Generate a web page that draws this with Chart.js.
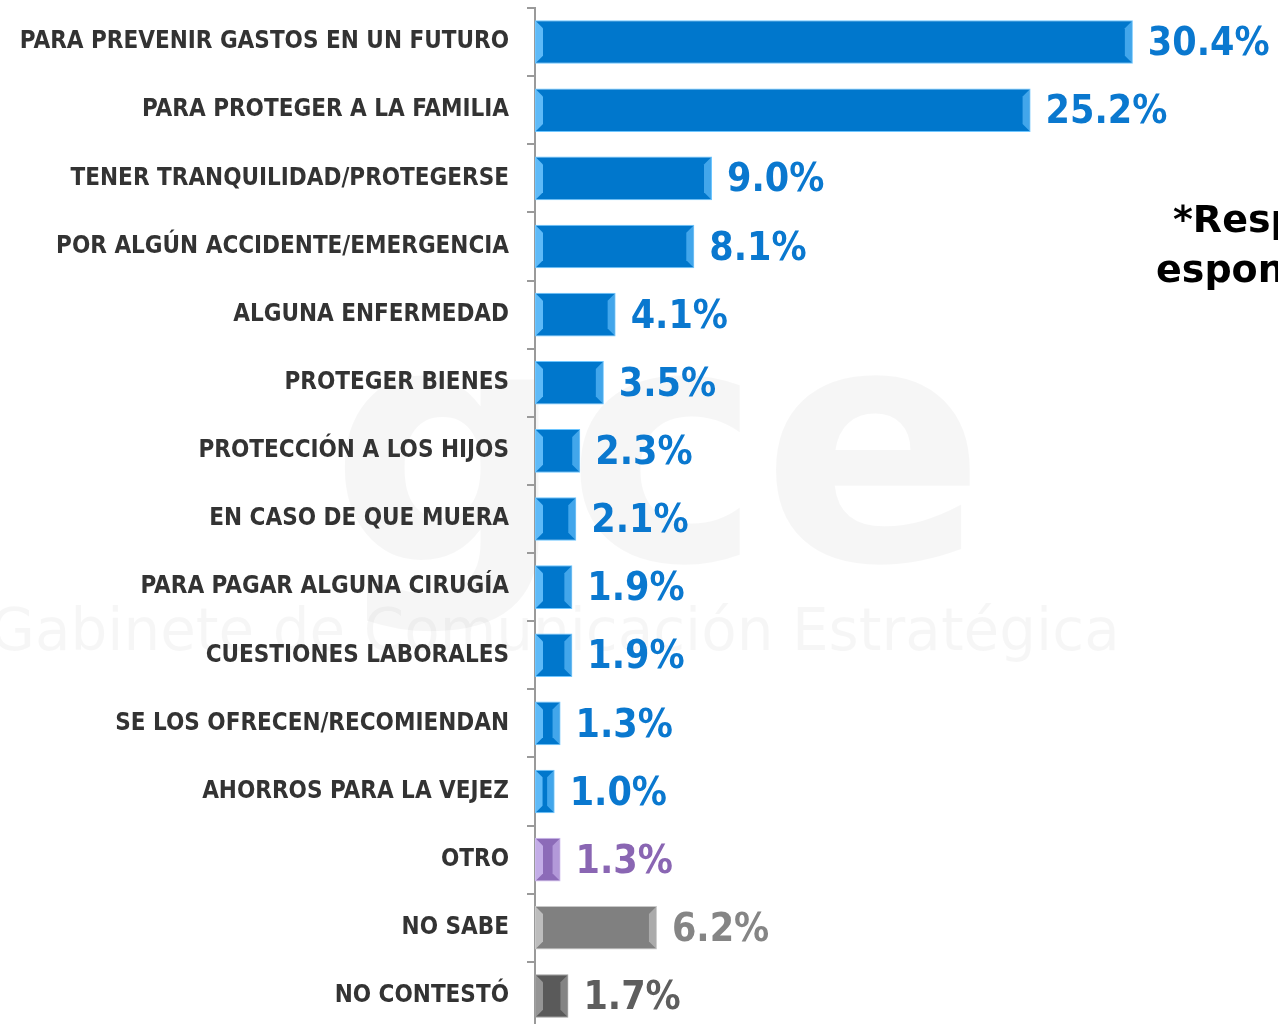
<!DOCTYPE html>
<html>
<head>
<meta charset="utf-8">
<script src="https://cdn.jsdelivr.net/npm/chart.js@4/dist/chart.umd.min.js"></script>
<style>
html,body{margin:0;padding:0;background:#fff;overflow:hidden;}
#wrap{width:1278px;height:1030px;position:relative;}
</style>
</head>
<body>
<div id="wrap"><canvas id="c" width="1278" height="1030"></canvas></div>
<script>
const categories = [
  "PARA PREVENIR GASTOS EN UN FUTURO",
  "PARA PROTEGER A LA FAMILIA",
  "TENER TRANQUILIDAD/PROTEGERSE",
  "POR ALGÚN ACCIDENTE/EMERGENCIA",
  "ALGUNA ENFERMEDAD",
  "PROTEGER BIENES",
  "PROTECCIÓN A LOS HIJOS",
  "EN CASO DE QUE MUERA",
  "PARA PAGAR ALGUNA CIRUGÍA",
  "CUESTIONES LABORALES",
  "SE LOS OFRECEN/RECOMIENDAN",
  "AHORROS PARA LA VEJEZ",
  "OTRO",
  "NO SABE",
  "NO CONTESTÓ"
];
const values = [30.4, 25.2, 9.0, 8.1, 4.1, 3.5, 2.3, 2.1, 1.9, 1.9, 1.3, 1.0, 1.3, 6.2, 1.7];
const barColors = ["#0077CC","#0077CC","#0077CC","#0077CC","#0077CC","#0077CC","#0077CC","#0077CC","#0077CC","#0077CC","#0077CC","#0077CC","#8C6BB8","#808080","#5A5A5A"];
const bevelColors = ["#6EC6FF","#6EC6FF","#6EC6FF","#6EC6FF","#6EC6FF","#6EC6FF","#6EC6FF","#6EC6FF","#6EC6FF","#6EC6FF","#6EC6FF","#6EC6FF","#CDB8EE","#C8C8C8","#A0A0A0"];
const labelColors = ["#0A78CF","#0A78CF","#0A78CF","#0A78CF","#0A78CF","#0A78CF","#0A78CF","#0A78CF","#0A78CF","#0A78CF","#0A78CF","#0A78CF","#8A66B3","#858585","#5E5E5E"];
const noteLines = ["*Respuesta", "espontánea"];
const watermarkText = "Gabinete de Comunicación Estratégica";

const watermark = {
  id: 'watermark',
  beforeDraw(chart) {
    const ctx = chart.ctx;
    ctx.save();
    ctx.fillStyle = 'rgba(0,0,0,0.035)';
    ctx.font = 'bold 330px "DejaVu Sans"';
    ctx.textBaseline = 'alphabetic';
    ctx.textAlign = 'left';
    ctx.fillText('gce', 330, 560);
    ctx.font = '58px "DejaVu Sans"';
    ctx.fillText(watermarkText, -10, 650);
    ctx.restore();
  }
};

const bevel = {
  id: 'bevel',
  afterDatasetsDraw(chart) {
    const ctx = chart.ctx;
    const meta = chart.getDatasetMeta(0);
    meta.data.forEach((bar, i) => {
      const p = bar.getProps(['x','y','base','height'], true);
      const left = p.base, right = p.x, top = p.y - p.height/2, bottom = p.y + p.height/2;
      const w = Math.min(7, (right-left)/3);
      ctx.save();
      ctx.fillStyle = bevelColors[i];
      ctx.globalAlpha = 0.85;
      ctx.beginPath();
      ctx.moveTo(left+1, top+1); ctx.lineTo(left+1+w, top+1+w); ctx.lineTo(left+1+w, bottom-1-w); ctx.lineTo(left+1, bottom-1); ctx.closePath();
      ctx.fill();
      ctx.globalAlpha = 0.6;
      ctx.beginPath();
      ctx.moveTo(right-1, top+1); ctx.lineTo(right-1-w, top+1+w); ctx.lineTo(right-1-w, bottom-1-w); ctx.lineTo(right-1, bottom-1); ctx.closePath();
      ctx.fill();
      ctx.restore();
    });
  }
};

const valueLabels = {
  id: 'valueLabels',
  afterDatasetsDraw(chart) {
    const ctx = chart.ctx;
    const meta = chart.getDatasetMeta(0);
    ctx.save();
    ctx.font = 'bold 39px "DejaVu Sans Condensed", "DejaVu Sans"';
    ctx.textAlign = 'left';
    ctx.textBaseline = 'middle';
    meta.data.forEach((bar, i) => {
      ctx.fillStyle = labelColors[i];
      ctx.fillText(values[i].toFixed(1) + '%', bar.x + 15, bar.y + 3);
    });
    ctx.fillStyle = '#000';
    ctx.font = 'bold 38px "DejaVu Sans"';
    ctx.fillText(noteLines[0], 1173, 222);
    ctx.fillText(noteLines[1], 1156, 272);
    ctx.restore();
  }
};

new Chart(document.getElementById('c'), {
  type: 'bar',
  data: {
    labels: categories,
    datasets: [{
      data: values,
      backgroundColor: barColors,
      borderColor: bevelColors,
      borderWidth: 1,
      borderSkipped: false,
      barPercentage: 0.64,
      categoryPercentage: 1.0
    }]
  },
  options: {
    indexAxis: 'y',
    responsive: false,
    animation: false,
    devicePixelRatio: 1,
    layout: { padding: { top: 8, bottom: 0, left: 0, right: 0 } },
    plugins: { legend: { display: false }, tooltip: { enabled: false } },
    scales: {
      x: { display: false, min: 0, max: 37.78 },
      y: {
        afterFit(scale) { scale.width = 535; scale.paddingTop = 0; scale.paddingBottom = 0; },
        border: { display: true, color: '#9A9A9A', width: 2 },
        grid: { display: true, drawOnChartArea: false, drawTicks: true, tickLength: 8, color: '#9A9A9A', lineWidth: 2, offset: true },
        ticks: {
          color: '#333333',
          padding: 18,
          font: { family: '"DejaVu Sans Condensed", "DejaVu Sans"', weight: 'bold', size: 24 }
        }
      }
    }
  },
  plugins: [watermark, bevel, valueLabels]
});
</script>
</body>
</html>
